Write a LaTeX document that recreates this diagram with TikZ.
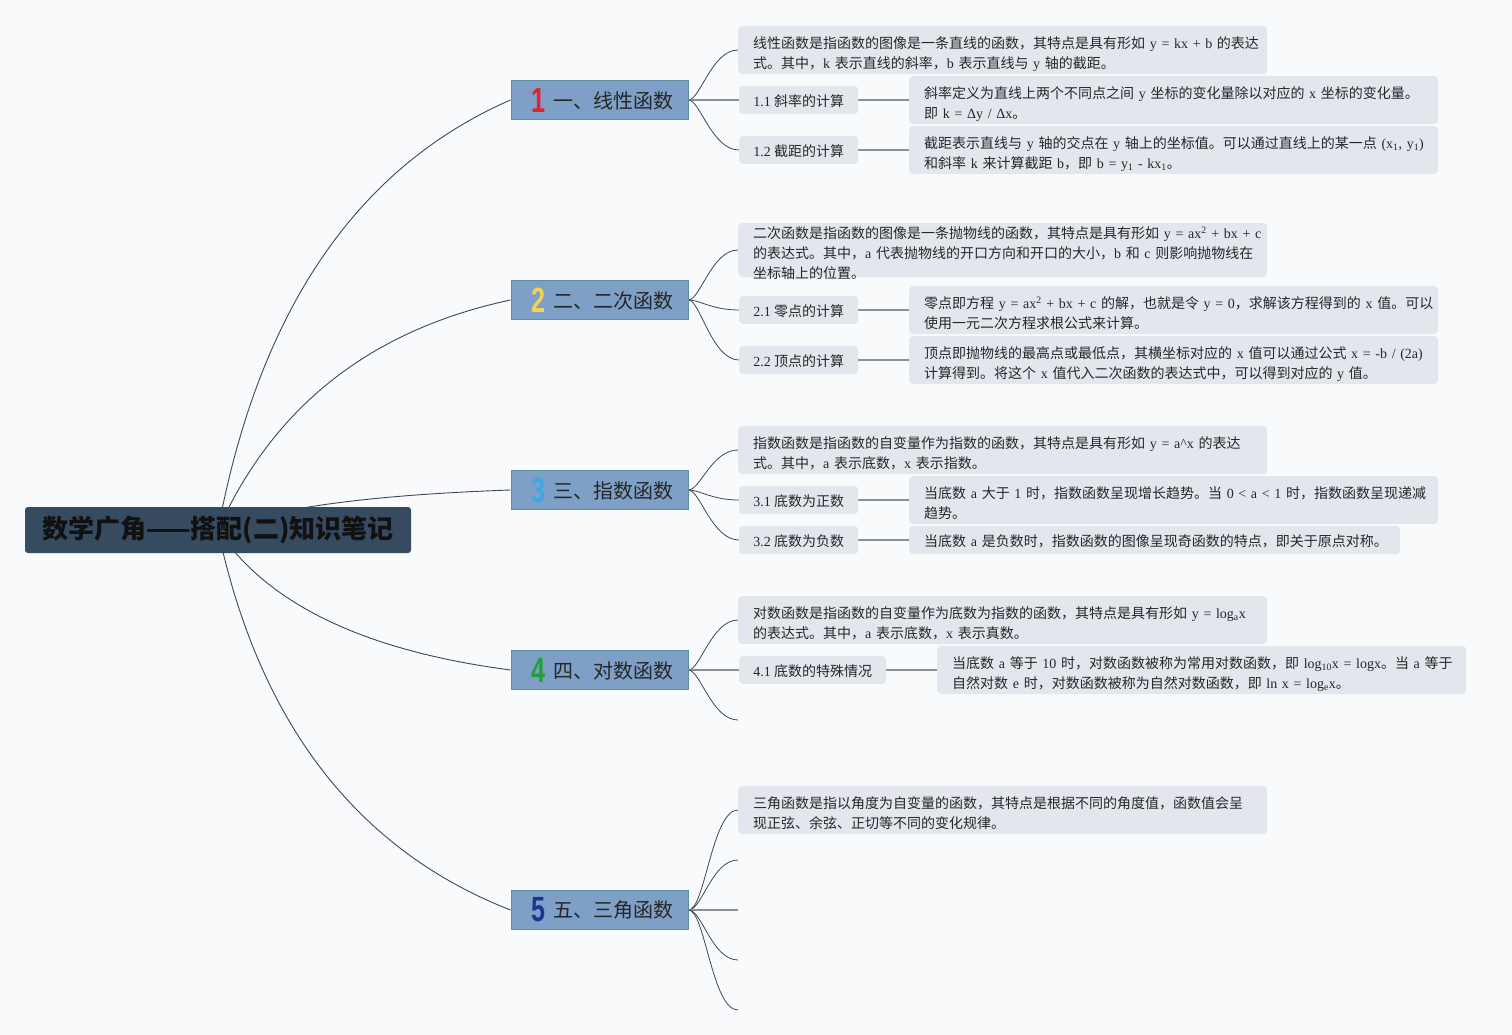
\documentclass[tikz,border=0pt]{standalone}
\usepackage{fontspec}
\setmainfont{Noto Sans CJK SC}
\newfontfamily\latin{Liberation Serif}
\newfontfamily\numfont{Liberation Sans}[FakeStretch=0.72]
\newcommand\lat[1]{{\latin #1}}
\newcommand\lline[1]{\raisebox{-3pt}[12.3pt][1.7pt]{#1}}
\newcommand\sline[1]{\raisebox{-1.5pt}[12.3pt][1.7pt]{#1}}
\newcommand\bnum[2]{\hspace*{6pt}\raisebox{-4pt}{\numfont\bfseries\fontsize{35}{35}\selectfont\color{#1}#2}\hspace{8pt}}
\definecolor{bgcol}{HTML}{F9FAFB}
\definecolor{rootfill}{HTML}{364A60}
\definecolor{roottext}{HTML}{111111}
\definecolor{brfill}{HTML}{7E9FC6}
\definecolor{brdraw}{HTML}{5D8FA3}
\definecolor{leaffill}{HTML}{E2E7EE}
\definecolor{txt}{HTML}{262626}
\definecolor{curvecol}{HTML}{3E4856}
\definecolor{straightcol}{HTML}{8A8F96}
\definecolor{n1}{HTML}{E5212B}
\definecolor{n2}{HTML}{F2D34F}
\definecolor{n3}{HTML}{3DA8E6}
\definecolor{n4}{HTML}{22A035}
\definecolor{n5}{HTML}{1C3591}
\pgfdeclarelayer{bg}
\pgfsetlayers{bg,main}
\tikzset{
  rootbox/.style={fill=rootfill, rounded corners=3pt, minimum width=386pt, minimum height=46pt, inner sep=0pt, font=\fontsize{26}{30}\selectfont\bfseries, text=roottext},
  branchbox/.style={fill=brfill, draw=brdraw, line width=1pt, minimum width=177pt, minimum height=39pt, inner sep=0pt, font=\fontsize{20}{24}\selectfont, text=txt},
  leafbox/.style={fill=leaffill, rounded corners=4pt, inner xsep=15pt, inner ysep=0pt, anchor=west, font=\fontsize{14}{20}\selectfont, text=txt},
  descbox/.style={leafbox, text width=499pt, align=left, minimum height=48pt},
  shortbox/.style={leafbox, text width=461pt, align=left, minimum height=28pt},
  subbox/.style={leafbox, inner xsep=14pt, minimum height=28pt},
  rootline/.style={draw=curvecol, line width=0.9pt},
  kidline/.style={draw=curvecol, line width=0.8pt},
  straightline/.style={draw=straightcol, line width=1.6pt}
}
\begin{document}
\begin{tikzpicture}[x=1pt,y=-1pt]
\begin{pgfonlayer}{bg}
\fill[bgcol] (0,0) rectangle (1512,1035);
\end{pgfonlayer}
\useasboundingbox (0,0) rectangle (1512,1035);

% root
\node[rootbox] (root) at (218,530) {数学广角——搭配(二)知识笔记};

% branches
\node[branchbox] (b1) at (599.5,100) {\bnum{n1}{1}一、线性函数};
\node[branchbox] (b2) at (599.5,300) {\bnum{n2}{2}二、二次函数};
\node[branchbox] (b3) at (599.5,490) {\bnum{n3}{3}三、指数函数};
\node[branchbox] (b4) at (599.5,670) {\bnum{n4}{4}四、对数函数};
\node[branchbox] (b5) at (599.5,910) {\bnum{n5}{5}五、三角函数};

% branch 1
\node[descbox] (d1) at (738,50) {\lline{线性函数是指函数的图像是一条直线的函数，其特点是具有形如 \lat{y = kx + b} 的表达}\\\lline{式。其中，\lat{k} 表示直线的斜率，\lat{b} 表示直线与 \lat{y} 轴的截距。}};
\node[subbox, minimum width=119pt] (s11) at (739,100) {\sline{\lat{1.1} 斜率的计算}};
\node[descbox] (t11) at (909,100) {\lline{斜率定义为直线上两个不同点之间 \lat{y} 坐标的变化量除以对应的 \lat{x} 坐标的变化量。}\\\lline{即 \lat{k = Δy / Δx}。}};
\node[subbox, minimum width=119pt] (s12) at (739,150) {\sline{\lat{1.2} 截距的计算}};
\node[descbox] (t12) at (909,150) {\lline{截距表示直线与 \lat{y} 轴的交点在 \lat{y} 轴上的坐标值。可以通过直线上的某一点 \lat{(x\textsubscript{1}, y\textsubscript{1})}}\\\lline{和斜率 \lat{k} 来计算截距 \lat{b}，即 \lat{b = y\textsubscript{1} - kx\textsubscript{1}}。}};

% branch 2
\node[descbox] (d2) at (738,250) {\lline{二次函数是指函数的图像是一条抛物线的函数，其特点是具有形如 \lat{y = ax\textsuperscript{2} + bx + c}}\\\lline{的表达式。其中，\lat{a} 代表抛物线的开口方向和开口的大小，\lat{b} 和 \lat{c} 则影响抛物线在}\\\lline{坐标轴上的位置。}};
\node[subbox, minimum width=119pt] (s21) at (739,310) {\sline{\lat{2.1} 零点的计算}};
\node[descbox] (t21) at (909,310) {\lline{零点即方程 \lat{y = ax\textsuperscript{2} + bx + c} 的解，也就是令 \lat{y = 0}，求解该方程得到的 \lat{x} 值。可以}\\\lline{使用一元二次方程求根公式来计算。}};
\node[subbox, minimum width=119pt] (s22) at (739,360) {\sline{\lat{2.2} 顶点的计算}};
\node[descbox] (t22) at (909,360) {\lline{顶点即抛物线的最高点或最低点，其横坐标对应的 \lat{x} 值可以通过公式 \lat{x = -b / (2a)}}\\\lline{计算得到。将这个 \lat{x} 值代入二次函数的表达式中，可以得到对应的 \lat{y} 值。}};

% branch 3
\node[descbox] (d3) at (738,450) {\lline{指数函数是指函数的自变量作为指数的函数，其特点是具有形如 \lat{y = a\textasciicircum x} 的表达}\\\lline{式。其中，\lat{a} 表示底数，\lat{x} 表示指数。}};
\node[subbox, minimum width=119pt] (s31) at (739,500) {\sline{\lat{3.1} 底数为正数}};
\node[descbox] (t31) at (909,500) {\lline{当底数 \lat{a} 大于 \lat{1} 时，指数函数呈现增长趋势。当 \lat{0 < a < 1} 时，指数函数呈现递减}\\\lline{趋势。}};
\node[subbox, minimum width=119pt] (s32) at (739,540) {\sline{\lat{3.2} 底数为负数}};
\node[shortbox] (t32) at (909,540) {\sline{当底数 \lat{a} 是负数时，指数函数的图像呈现奇函数的特点，即关于原点对称。}};

% branch 4
\node[descbox] (d4) at (738,620) {\lline{对数函数是指函数的自变量作为底数为指数的函数，其特点是具有形如 \lat{y = log\textsubscript{a}x}}\\\lline{的表达式。其中，\lat{a} 表示底数，\lat{x} 表示真数。}};
\node[subbox, minimum width=147pt] (s41) at (739,670) {\sline{\lat{4.1} 底数的特殊情况}};
\node[descbox] (t41) at (937,670) {\lline{当底数 \lat{a} 等于 \lat{10} 时，对数函数被称为常用对数函数，即 \lat{log\textsubscript{10}x = logx}。当 \lat{a} 等于}\\\lline{自然对数 \lat{e} 时，对数函数被称为自然对数函数，即 \lat{ln x = log\textsubscript{e}x}。}};
\coordinate (e43) at (738,720);

% branch 5
\node[descbox] (d5) at (738,810) {\lline{三角函数是指以角度为自变量的函数，其特点是根据不同的角度值，函数值会呈}\\\lline{现正弦、余弦、正切等不同的变化规律。}};
\coordinate (e52) at (738,860);
\coordinate (e53) at (738,910);
\coordinate (e54) at (738,960);
\coordinate (e55) at (738,1010);

\begin{pgfonlayer}{bg}
% root curves
\draw[rootline] (root.center) .. controls (259,310) and (357,167) .. (b1.west);
\draw[rootline] (root.center) .. controls (273,407) and (370,330) .. (b2.west);
\draw[rootline] (root.center) .. controls (268,509) and (366,495) .. (b3.west);
\draw[rootline] (root.center) .. controls (268,605) and (366,651) .. (b4.west);
\draw[rootline] (root.center) .. controls (259,723) and (357,850) .. (b5.west);
% branch 1
\draw[kidline] (b1.east) .. controls (700,100) and (712,50) .. (d1.west);
\draw[straightline] (b1.east) -- (s11.west);
\draw[kidline] (b1.east) .. controls (700,100) and (712,150) .. (s12.west);
\draw[straightline] (s11.east) -- (t11.west);
\draw[straightline] (s12.east) -- (t12.west);
% branch 2
\draw[kidline] (b2.east) .. controls (700,300) and (712,250) .. (d2.west);
\draw[kidline] (b2.east) .. controls (700,300) and (712,310) .. (s21.west);
\draw[kidline] (b2.east) .. controls (700,300) and (712,360) .. (s22.west);
\draw[straightline] (s21.east) -- (t21.west);
\draw[straightline] (s22.east) -- (t22.west);
% branch 3
\draw[kidline] (b3.east) .. controls (700,490) and (712,450) .. (d3.west);
\draw[kidline] (b3.east) .. controls (700,490) and (712,500) .. (s31.west);
\draw[kidline] (b3.east) .. controls (700,490) and (712,540) .. (s32.west);
\draw[straightline] (s31.east) -- (t31.west);
\draw[straightline] (s32.east) -- (t32.west);
% branch 4
\draw[kidline] (b4.east) .. controls (700,670) and (712,620) .. (d4.west);
\draw[straightline] (b4.east) -- (s41.west);
\draw[kidline] (b4.east) .. controls (700,670) and (712,720) .. (e43);
\draw[straightline] (s41.east) -- (t41.west);
% branch 5
\draw[kidline] (b5.east) .. controls (705,910) and (712,810) .. (d5.west);
\draw[kidline] (b5.east) .. controls (702,910) and (712,860) .. (e52);
\draw[straightline] (b5.east) -- (e53);
\draw[kidline] (b5.east) .. controls (702,910) and (712,960) .. (e54);
\draw[kidline] (b5.east) .. controls (705,910) and (712,1010) .. (e55);
\end{pgfonlayer}
\end{tikzpicture}
\end{document}
